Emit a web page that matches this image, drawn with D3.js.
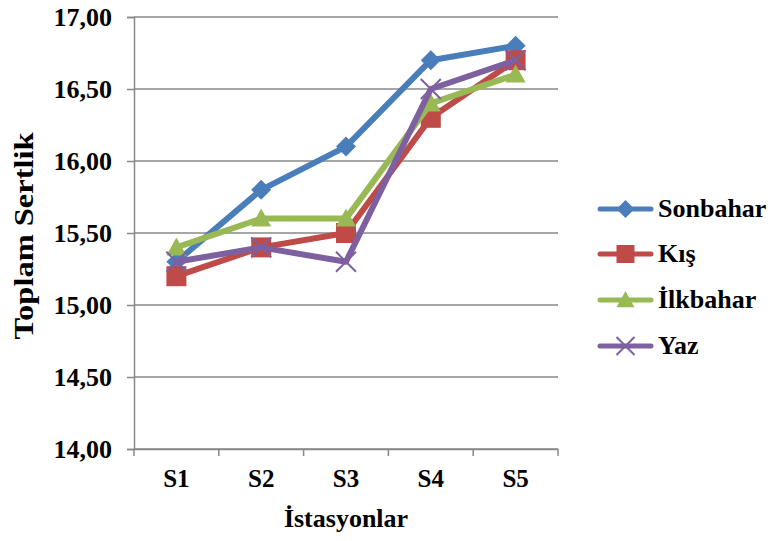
<!DOCTYPE html>
<html>
<head>
<meta charset="utf-8">
<script src="https://cdn.jsdelivr.net/npm/d3@7"></script>
<style>
  body { margin: 0; background: #fff; }
</style>
</head>
<body>
<svg id="chart" width="774" height="541"></svg>
<script>
// stations and season series
var stations = ['S1', 'S2', 'S3', 'S4', 'S5'];
var seasons  = ['Sonbahar', 'Kış', 'İlkbahar', 'Yaz'];
var sonbahar = [15.30, 15.80, 16.10, 16.70, 16.80];
var kis      = [15.20, 15.40, 15.50, 16.30, 16.70];
var ilkbahar = [15.40, 15.60, 15.60, 16.40, 16.60];
var yaz      = [15.30, 15.40, 15.30, 16.50, 16.70];
var yTicks   = [14.0, 14.5, 15.0, 15.5, 16.0, 16.5, 17.0];

var colors  = ['#4A7EBB', '#BE4B48', '#98B954', '#7D60A0'];
var symbols = ['diamond', 'square', 'triangle', 'cross'];
var series  = [sonbahar, kis, ilkbahar, yaz];

var FONT = '"Liberation Serif"';
var plotL = 134, plotR = 558, plotT = 17, plotB = 449;
var svg = d3.select('#chart');

var x = d3.scaleBand().domain(stations).range([plotL, plotR]);
var y = d3.scaleLinear().domain([14, 17]).range([plotB, plotT]);
var fmt = function(d){ return d3.format('.2f')(d).replace('.', ','); };

function bold(sel, size) {
  return sel.style('font-family', FONT).style('font-weight', 'bold')
            .style('font-size', size + 'px').attr('fill', '#000');
}

// gridlines
svg.append('g').selectAll('line')
   .data(yTicks).enter().append('line')
   .attr('x1', plotL).attr('x2', plotR)
   .attr('y1', d => y(d)).attr('y2', d => y(d))
   .attr('stroke', '#888').attr('stroke-width', 1.5);

// y axis
var yAxis = svg.append('g')
   .attr('transform', 'translate(' + plotL + ',0)')
   .call(d3.axisLeft(y).tickValues(yTicks).tickFormat(fmt).tickSize(7).tickPadding(15));
yAxis.attr('font-family', null);
yAxis.select('.domain').attr('stroke', '#888').attr('stroke-width', 1.5);
yAxis.selectAll('.tick line').attr('stroke', '#888').attr('stroke-width', 1.5);
bold(yAxis.selectAll('text'), 26).attr('dy', '0.34em');

// x axis
var xAxis = svg.append('g')
   .attr('transform', 'translate(0,' + plotB + ')')
   .call(d3.axisBottom(x).tickSize(0).tickPadding(20));
xAxis.attr('font-family', null);
xAxis.select('.domain').attr('stroke', '#888').attr('stroke-width', 1.5);
bold(xAxis.selectAll('text'), 25);
var bounds = stations.map(d => x(d)).concat([plotR]);
svg.append('g').selectAll('line')
   .data(bounds).enter().append('line')
   .attr('x1', d => d).attr('x2', d => d)
   .attr('y1', plotB).attr('y2', plotB + 7)
   .attr('stroke', '#888').attr('stroke-width', 1.5);

// axis titles
bold(svg.append('text'), 28)
   .attr('transform', 'translate(33,236) rotate(-90) scale(1.16,1)')
   .attr('text-anchor', 'middle')
   .text('Toplam Sertlik');
bold(svg.append('text'), 26)
   .attr('x', 346).attr('y', 527)
   .attr('text-anchor', 'middle')
   .text('İstasyonlar');

// s = half size of the marker
function marker(g, i, cx, cy, s) {
  var c = colors[i];
  if (symbols[i] === 'diamond') {
    g.append('path').attr('d', 'M' + cx + ',' + (cy - s) + 'L' + (cx + s) + ',' + cy + 'L' + cx + ',' + (cy + s) + 'L' + (cx - s) + ',' + cy + 'Z')
     .attr('fill', c);
  } else if (symbols[i] === 'square') {
    g.append('rect').attr('x', cx - s).attr('y', cy - s)
     .attr('width', 2 * s).attr('height', 2 * s).attr('fill', c);
  } else if (symbols[i] === 'triangle') {
    g.append('path').attr('d', 'M' + cx + ',' + (cy - s) + 'L' + (cx + s) + ',' + (cy + s * 0.8) + 'L' + (cx - s) + ',' + (cy + s * 0.8) + 'Z')
     .attr('fill', c);
  } else {
    g.append('path').attr('d', 'M' + (cx - s) + ',' + (cy - s) + 'L' + (cx + s) + ',' + (cy + s) +
                               'M' + (cx + s) + ',' + (cy - s) + 'L' + (cx - s) + ',' + (cy + s))
     .attr('stroke', c).attr('stroke-width', 2).attr('fill', 'none');
  }
}

// lines and markers
var line = d3.line().x((d, j) => x(stations[j]) + x.bandwidth() / 2).y(d => y(d));
series.forEach(function(vals, i) {
  var g = svg.append('g');
  g.append('path').datum(vals)
   .attr('d', line)
   .attr('fill', 'none')
   .attr('stroke', colors[i])
   .attr('stroke-width', 6)
   .attr('stroke-linejoin', 'round')
   .attr('stroke-linecap', 'round');
  vals.forEach(function(v, j) {
    marker(g, i, x(stations[j]) + x.bandwidth() / 2, y(v), 10);
  });
});

// legend
var legendY = [209, 254, 300, 346];
seasons.forEach(function(s, i) {
  var g = svg.append('g');
  g.append('line')
   .attr('x1', 600).attr('x2', 651)
   .attr('y1', legendY[i]).attr('y2', legendY[i])
   .attr('stroke', colors[i]).attr('stroke-width', 5)
   .attr('stroke-linecap', 'round');
  marker(g, i, 625.5, legendY[i], 9);
  bold(g.append('text'), 26)
   .attr('x', 658).attr('y', legendY[i] + 8)
   .text(s);
});
</script>
</body>
</html>
